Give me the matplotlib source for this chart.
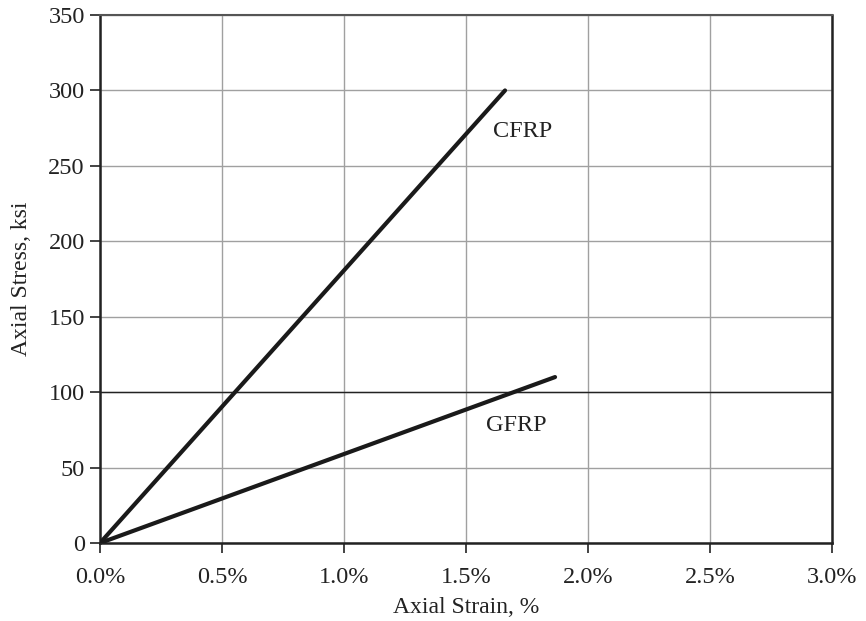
import matplotlib.pyplot as plt
from matplotlib.ticker import FuncFormatter

# Données
deformation_cfrp = [0.0, 1.66]   # %
contrainte_cfrp = [0, 300]       # ksi
deformation_gfrp = [0.0, 1.865]
contrainte_gfrp = [0, 110]

ticks_x = [0.0, 0.5, 1.0, 1.5, 2.0, 2.5, 3.0]
ticks_y = [0, 50, 100, 150, 200, 250, 300, 350]

plt.rcParams["font.family"] = ["Liberation Serif", "DejaVu Serif"]

fig = plt.figure(figsize=(8.66, 6.21), dpi=100)
ax = fig.add_axes([0.1155, 0.1256, 0.8452, 0.8502])

ax.set_xlim(0, 3.0)
ax.set_ylim(0, 350)
ax.set_xticks(ticks_x)
ax.set_yticks(ticks_y)
ax.xaxis.set_major_formatter(FuncFormatter(lambda v, p: f"{v:.1f}%"))

ax.grid(True, color="#a0a0a0", linewidth=1.0)
ax.axhline(100, color="#222222", linewidth=1.0, zorder=1)
ax.set_axisbelow(True)

ax.plot(deformation_cfrp, contrainte_cfrp, color="#1a1a1a", linewidth=3.0,
        solid_capstyle="round", zorder=3)
ax.plot(deformation_gfrp, contrainte_gfrp, color="#1a1a1a", linewidth=3.0,
        solid_capstyle="round", zorder=3)

ax.text(1.61, 273, "CFRP", fontsize=17.5, color="#222222", va="center")
ax.text(1.58, 78, "GFRP", fontsize=17.5, color="#222222", va="center")

for s in ["left", "bottom", "right"]:
    ax.spines[s].set_color("#222222")
    ax.spines[s].set_linewidth(1.8)
ax.spines["top"].set_color("#555555")
ax.spines["top"].set_linewidth(1.5)

ax.tick_params(direction="out", length=7, width=1.2, color="#222222",
               labelsize=17.5, labelcolor="#222222", pad=4)
ax.tick_params(axis="x", pad=10)

ax.set_xlabel("Axial Strain, %", fontsize=17, color="#222222", labelpad=7)
ax.set_ylabel("Axial Stress, ksi", fontsize=17, color="#222222", labelpad=12)

fig.savefig("out.png", dpi=100)
